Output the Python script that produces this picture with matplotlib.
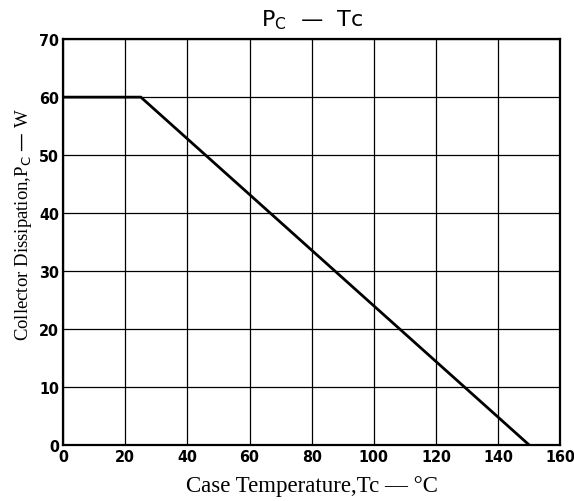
import matplotlib
matplotlib.use("Agg")
import matplotlib.pyplot as plt

# Data
temp_c = [0, 25, 150]
power_w = [60, 60, 0]
x_ticks = [0, 20, 40, 60, 80, 100, 120, 140, 160]
y_ticks = [0, 10, 20, 30, 40, 50, 60, 70]

fig = plt.figure(figsize=(5.74, 5.02), dpi=100)
ax = fig.add_axes([0.110, 0.1116, 0.866, 0.8084])

ax.plot(temp_c, power_w, color="black", linewidth=2.0, solid_joinstyle="miter", zorder=3)

ax.set_xlim(0, 160)
ax.set_ylim(0, 70)
ax.set_xticks(x_ticks)
ax.set_yticks(y_ticks)
ax.grid(True, color="black", linewidth=0.9)
ax.set_axisbelow(True)
for s in ax.spines.values():
    s.set_linewidth(1.6)
    s.set_color("black")
ax.tick_params(length=0, pad=3, labelsize=11.5)
for lab in ax.get_xticklabels() + ax.get_yticklabels():
    lab.set_fontfamily("DejaVu Sans")
    lab.set_fontstretch("condensed")
    lab.set_fontweight("semibold")

ax.set_title(r"P$_{\mathrm{C}}$  —  Tc", fontsize=16, family="DejaVu Sans", pad=10)
ax.set_xlabel("Case Temperature,Tc — °C", family="Liberation Serif", fontsize=16.5, labelpad=8)
ax.set_ylabel(r"Collector Dissipation,P$_{\mathrm{C}}$ — W", family="Liberation Serif", fontsize=13.5)
ax.yaxis.set_label_coords(-0.058, 0.546)

fig.savefig("out.png", dpi=100, facecolor="white")
